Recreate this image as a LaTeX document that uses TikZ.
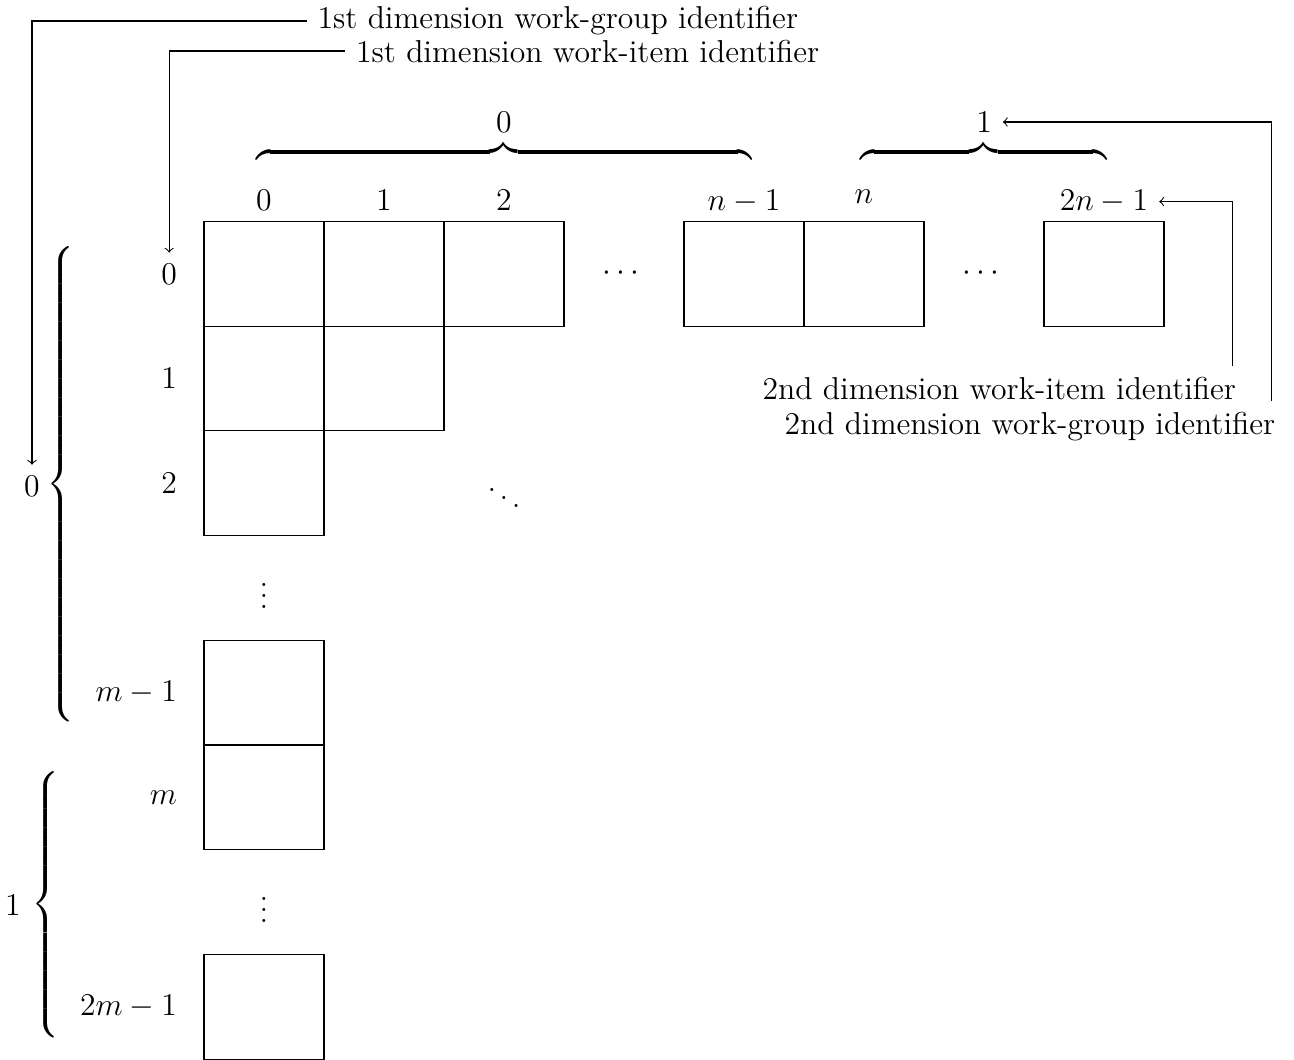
\documentclass[12pt,tikz,border=0pt]{standalone}
\usepackage{amsmath}
\usetikzlibrary{calc}
\newlength\pxl
\setlength\pxl{0.3787pt}
\begin{document}
\begin{tikzpicture}[x=0.3787pt,y=-0.3787pt,
  cell/.style={draw,minimum width=120*\pxl,minimum height=104.7*\pxl,inner sep=0pt},
  collab/.style={anchor=north},
  rowlab/.style={anchor=east},
  note/.style={anchor=west},
  brace/.style={inner sep=0pt},
  link/.style={->}]
\useasboundingbox (0,0) rectangle (1294,1059);

% grid of work-items
\foreach \r/\c in {0/0,0/1,0/2,0/4,0/5,0/7,1/0,1/1,2/0,4/0,5/0,7/0}
  \node[cell] (cell-\r-\c) at ({264+120*\c},{273.85+104.7*\r}) {};

% column indices
\node[collab] (cl0) at (264,179) {$0$};
\node[collab] (cl1) at (384,179) {$1$};
\node[collab] (cl2) at (504,179) {$2$};
\node[collab] (cl4) at (744,179) {$n-1$};
\node[collab] (cl5) at (864,179) {$n$};
\node[collab] (cl7) at (1104,179) {$2n-1$};

% row indices
\node[rowlab] (rl0) at (188,273.85) {$0$};
\node[rowlab] (rl1) at (188,378.55) {$1$};
\node[rowlab] (rl2) at (188,483.25) {$2$};
\node[rowlab] (rl4) at (188,692.65) {$m-1$};
\node[rowlab] (rl5) at (188,797.35) {$m$};
\node[rowlab] (rl7) at (188,1006.75) {$2m-1$};

% ellipses
\node (dh1) at (624,273.85) {$\cdots$};
\node (dh2) at (984,273.85) {$\cdots$};
\node (dv1) at (264,588) {$\vdots$};
\node (dv2) at (264,902) {$\vdots$};
\node (dd) at (504,490) {$\ddots$};

% work-group braces along the second dimension
\node[brace] (tb0) at (504,152) {\hbox to 496\pxl{\downbracefill}};
\node (tb0lab) at (504,122) {$0$};
\node[brace] (tb1) at (983.5,152) {\hbox to 247\pxl{\downbracefill}};
\node (tb1lab) at (984,122) {$1$};

% work-group braces along the first dimension
\node[brace,anchor=west] (lb0) at (46,484)
  {$\delimitershortfall=0pt\delimiterfactor=1000\left\{\vcenter{\hbox{\rule{0pt}{470\pxl}}}\right.$};
\node (lb0lab) at (32,486) {$0$};
\node[brace,anchor=west] (lb1) at (31,904.5)
  {$\delimitershortfall=0pt\delimiterfactor=1000\left\{\vcenter{\hbox{\rule{0pt}{260\pxl}}}\right.$};
\node (lb1lab) at (13,905) {$1$};

% identifier captions
\node[note] (wg1) at (306.5,21) {1st dimension work-group identifier};
\node[note] (wi1) at (345,51) {1st dimension work-item identifier};
\node[note] (wi2) at (751.5,388.8) {2nd dimension work-item identifier};
\node[note] (wg2) at (773.5,426.8) {2nd dimension work-group identifier};

% pointers from captions to indices
\draw[link] (wg1.west) -| (lb0lab.north);
\draw[link] (wi1.west) -| (rl0.north);
\draw[link] ([xshift=-15*\pxl]wi2.north east) |- (cl7.east);
\draw[link] ([xshift=-15*\pxl]wg2.north east) |- (tb1lab.east);
\end{tikzpicture}
\end{document}
